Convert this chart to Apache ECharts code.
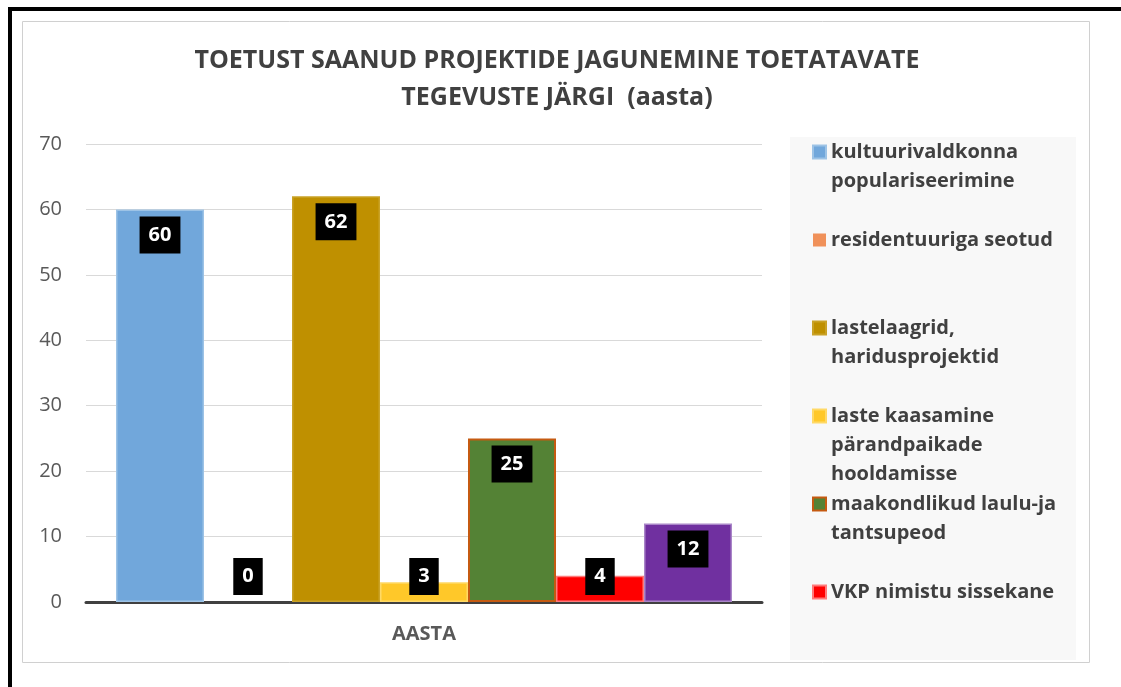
<!DOCTYPE html>
<html>
<head>
<meta charset="utf-8">
<script src="https://cdn.jsdelivr.net/npm/echarts@6/dist/echarts.min.js"></script>
<style>
  html, body { margin: 0; padding: 0; background: #fff; }
  #chart { width: 1121px; height: 687px; }
</style>
<title>Toetust saanud projektid</title>
</head>
<body>
<div id="chart"></div>
<script>
  // andmed
  var categories = ['AASTA'];
  var seriesNames = [
    'kultuurivaldkonna populariseerimine',
    'residentuuriga seotud',
    'lastelaagrid, haridusprojektid',
    'laste kaasamine pärandpaikade hooldamisse',
    'maakondlikud laulu-ja tantsupeod',
    'VKP nimistu sissekane',
    'muu'
  ];
  // legendi read (nagu originaalis murtud)
  var legendLines = [
    ['kultuurivaldkonna', 'populariseerimine'],
    ['residentuuriga seotud'],
    ['lastelaagrid,', 'haridusprojektid'],
    ['laste kaasamine', 'pärandpaikade', 'hooldamisse'],
    ['maakondlikud laulu-ja', 'tantsupeod'],
    ['VKP nimistu sissekane']
  ];
  var values = [60, 0, 62, 3, 25, 4, 12];
  var yMin = 0, yMax = 70, yStep = 10;

  var fills   = ['#71a7db', '#f0915a', '#bf9000', '#ffc829', '#548235', '#ff0000', '#7030a0'];
  var borders = ['#9dc3e6', '#f8b48c', '#c9a227', '#ffd966', '#c55a11', '#ff7a7a', '#a985c8'];

  var font = '"Open Sans", "DejaVu Sans", sans-serif';
  var LH = 29;

  var chart = echarts.init(document.getElementById('chart'));

  var series = [];
  for (var i = 0; i < values.length; i++) {
    series.push({
      name: seriesNames[i],
      type: 'bar',
      data: [values[i]],
      barWidth: 88,
      barGap: '0%',
      itemStyle: {
        color: fills[i],
        borderColor: borders[i],
        borderWidth: values[i] === 0 ? 0 : (i == 4 ? 2 : 1.5)
      },
      label: {
        show: true,
        position: values[i] < 8 ? 'insideBottom' : 'insideTop',
        distance: 7,
        color: '#fff',
        backgroundColor: '#000',
        fontFamily: font,
        fontWeight: 'bold',
        fontSize: 20,
        lineHeight: 21,
        padding: [8, 9]
      }
    });
  }

  var legendData = seriesNames.slice(0, legendLines.length);

  var option = {
    animation: false,
    textStyle: { fontFamily: font },
    title: {
      text: 'TOETUST SAANUD PROJEKTIDE JAGUNEMINE TOETATAVATE\nTEGEVUSTE JÄRGI  (aasta)',
      left: 557,
      top: 42,
      textAlign: 'center',
      padding: 0,
      textStyle: {
        color: '#404040',
        fontFamily: font,
        fontWeight: 'bold',
        fontSize: 25,
        lineHeight: 37
      }
    },
    graphic: [
      { type: 'rect', z: -10, shape: { x: 8, y: 7, width: 1113, height: 4 }, style: { fill: '#000' } },
      { type: 'rect', z: -10, shape: { x: 8, y: 7, width: 4, height: 680 }, style: { fill: '#000' } },
      { type: 'rect', z: -10, shape: { x: 22.5, y: 21.5, width: 1067, height: 641 }, style: { fill: 'none', stroke: '#d0d0d0', lineWidth: 1 } },
      { type: 'rect', z: -10, shape: { x: 790, y: 137, width: 286, height: 523 }, style: { fill: '#f8f8f8' } }
    ],
    legend: {
      orient: 'vertical',
      left: 812,
      top: 152 - 5 * LH / 2,
      padding: 0,
      itemGap: 88 - 5 * LH,
      itemWidth: 13,
      itemHeight: 13,
      icon: 'rect',
      data: legendData,
      // tühjad read ümber teksti, et märk jääks esimese rea kõrgusele
      formatter: function (name) {
        var lines = legendLines[seriesNames.indexOf(name)];
        var after = 3 - lines.length;
        return '\n\n' + lines.join('\n') + new Array(after + 1).join('\n ');
      },
      textStyle: {
        color: '#404040',
        fontFamily: font,
        fontWeight: 'bold',
        fontSize: 20,
        lineHeight: LH
      }
    },
    grid: { left: 86, right: 359, top: 144, bottom: 85 },
    xAxis: {
      type: 'category',
      data: categories,
      axisTick: { show: false },
      axisLine: { lineStyle: { color: '#404040', width: 3 } },
      axisLabel: { color: '#595959', fontWeight: 'bold', fontSize: 20, margin: 22 }
    },
    yAxis: {
      type: 'value',
      min: yMin,
      max: yMax,
      interval: yStep,
      axisLine: { show: false },
      axisTick: { show: false },
      axisLabel: { color: '#595959', fontSize: 20, margin: 24 },
      splitLine: { lineStyle: { color: '#d9d9d9', width: 1 } }
    },
    series: series
  };

  chart.setOption(option);
</script>
</body>
</html>
